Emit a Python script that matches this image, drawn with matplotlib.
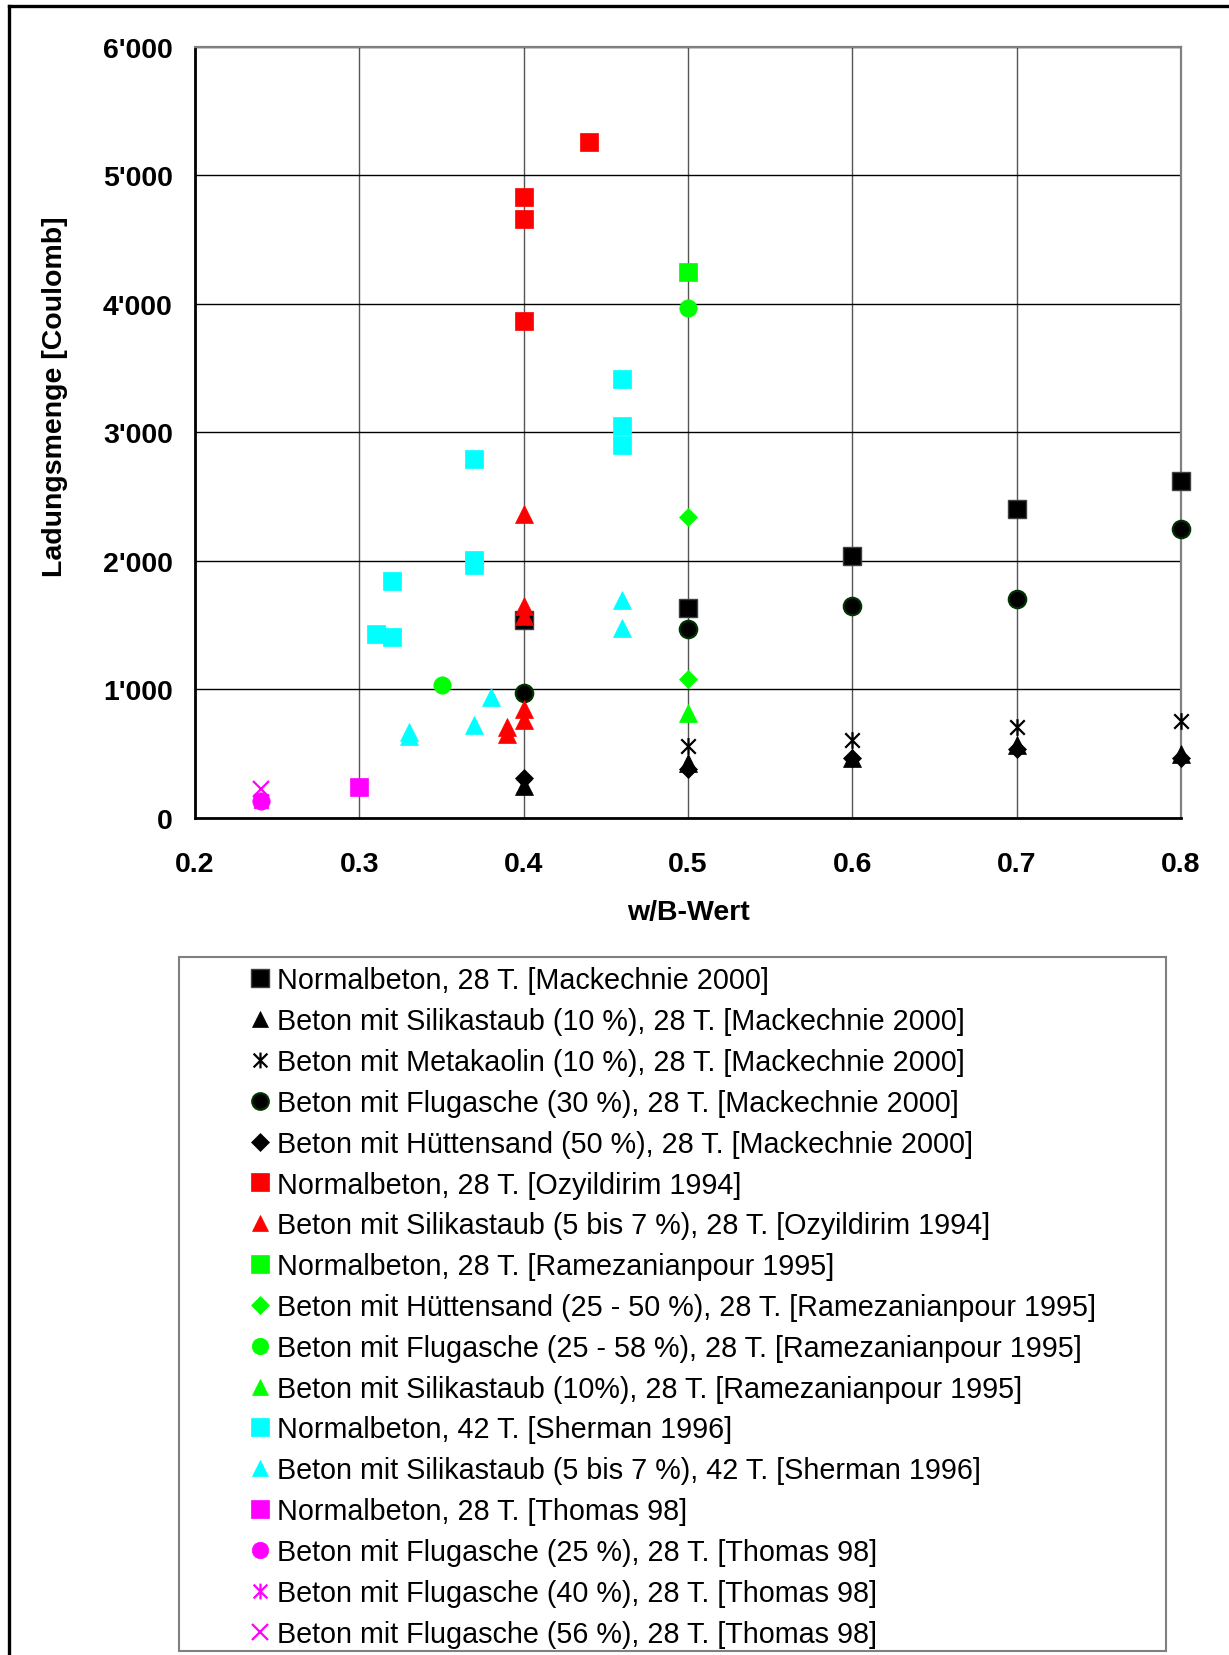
import numpy as np
import matplotlib
matplotlib.use("Agg")
import matplotlib.pyplot as plt
from matplotlib.path import Path
from matplotlib.lines import Line2D
from matplotlib.patches import Rectangle

plt.rcParams["font.family"] = ["Liberation Sans", "DejaVu Sans"]

# x = w/B-Wert, y = Ladungsmenge [Coulomb]
mack_nb_x = [0.4, 0.5, 0.6, 0.7, 0.8]
mack_nb_y = [1540, 1630, 2040, 2400, 2620]
mack_sf_x = [0.4, 0.5, 0.6, 0.7, 0.8]
mack_sf_y = [250, 430, 470, 565, 500]
mack_mk_x = [0.4, 0.5, 0.6, 0.7, 0.8]
mack_mk_y = [250, 557, 609, 710, 756]
mack_fa_x = [0.4, 0.5, 0.6, 0.7, 0.8]
mack_fa_y = [970, 1472, 1648, 1707, 2246]
mack_hs_x = [0.4, 0.5, 0.6, 0.7, 0.8]
mack_hs_y = [315, 385, 465, 540, 466]
ozy_nb_x = [0.4, 0.4, 0.4, 0.44]
ozy_nb_y = [4826, 4658, 3863, 5259]
ozy_sf_x = [0.4, 0.4, 0.4, 0.4, 0.4, 0.39, 0.39]
ozy_sf_y = [2365, 1650, 1570, 850, 760, 710, 650]
ram_nb_x = [0.5]
ram_nb_y = [4250]
ram_hs_x = [0.5, 0.5]
ram_hs_y = [2340, 1083]
ram_fa_x = [0.5, 0.35]
ram_fa_y = [3969, 1031]
ram_sf_x = [0.5]
ram_sf_y = [820]
sher_nb_x = [0.46, 0.46, 0.46, 0.37, 0.37, 0.37, 0.32, 0.31, 0.32]
sher_nb_y = [3415, 3047, 2904, 2790, 2005, 1965, 1842, 1431, 1410]
sher_sf_x = [0.46, 0.46, 0.38, 0.37, 0.33, 0.33]
sher_sf_y = [1692, 1480, 945, 723, 670, 635]
tho_nb_x = [0.3]
tho_nb_y = [245]
tho_fa25_x = [0.24]
tho_fa25_y = [130]
tho_fa40_x = [0.24]
tho_fa40_y = [130]
tho_fa56_x = [0.24]
tho_fa56_y = [225]

labels = [
    "Normalbeton, 28 T. [Mackechnie 2000]",
    "Beton mit Silikastaub (10 %), 28 T. [Mackechnie 2000]",
    "Beton mit Metakaolin (10 %), 28 T. [Mackechnie 2000]",
    "Beton mit Flugasche (30 %), 28 T. [Mackechnie 2000]",
    "Beton mit Hüttensand (50 %), 28 T. [Mackechnie 2000]",
    "Normalbeton, 28 T. [Ozyildirim 1994]",
    "Beton mit Silikastaub (5 bis 7 %), 28 T. [Ozyildirim 1994]",
    "Normalbeton, 28 T. [Ramezanianpour 1995]",
    "Beton mit Hüttensand (25 - 50 %), 28 T. [Ramezanianpour 1995]",
    "Beton mit Flugasche (25 - 58 %), 28 T. [Ramezanianpour 1995]",
    "Beton mit Silikastaub (10%), 28 T. [Ramezanianpour 1995]",
    "Normalbeton, 42 T. [Sherman 1996]",
    "Beton mit Silikastaub (5 bis 7 %), 42 T. [Sherman 1996]",
    "Normalbeton, 28 T. [Thomas 98]",
    "Beton mit Flugasche (25 %), 28 T. [Thomas 98]",
    "Beton mit Flugasche (40 %), 28 T. [Thomas 98]",
    "Beton mit Flugasche (56 %), 28 T. [Thomas 98]",
]

yticks = [0, 1000, 2000, 3000, 4000, 5000, 6000]
ytick_labels = ["0", "1'000", "2'000", "3'000", "4'000", "5'000", "6'000"]
xticks = [0.2, 0.3, 0.4, 0.5, 0.6, 0.7, 0.8]
xtick_labels = ["0.2", "0.3", "0.4", "0.5", "0.6", "0.7", "0.8"]

# Excel "star" marker: x with a vertical bar
star = Path([(-1, -1), (1, 1), (-1, 1), (1, -1), (0, -1.15), (0, 1.15)],
            [Path.MOVETO, Path.LINETO, Path.MOVETO, Path.LINETO, Path.MOVETO, Path.LINETO])

RED, GRN, CYN, MAG = "#FF0000", "#00FF00", "#00FFFF", "#FF00FF"
sq, tri, dia, circ, xs = 13, 12.8, 9.3, 12.5, 12

series = [
    (mack_nb_x, mack_nb_y, dict(marker="s", ms=sq, mfc="black", mec="#404040", mew=1)),
    (mack_sf_x, mack_sf_y, dict(marker="^", ms=tri, mfc="black", mec="black", mew=0.5)),
    (mack_mk_x, mack_mk_y, dict(marker=star, ms=xs, mfc="none", mec="black", mew=1.6)),
    (mack_fa_x, mack_fa_y, dict(marker="o", ms=circ, mfc="black", mec="#003300", mew=1.6)),
    (mack_hs_x, mack_hs_y, dict(marker="D", ms=dia, mfc="black", mec="black", mew=0.5)),
    (ozy_nb_x, ozy_nb_y, dict(marker="s", ms=sq, mfc=RED, mec=RED, mew=0.5)),
    (ozy_sf_x, ozy_sf_y, dict(marker="^", ms=tri, mfc=RED, mec=RED, mew=0.5)),
    (ram_nb_x, ram_nb_y, dict(marker="s", ms=sq, mfc=GRN, mec=GRN, mew=0.5)),
    (ram_hs_x, ram_hs_y, dict(marker="D", ms=dia, mfc=GRN, mec=GRN, mew=0.5)),
    (ram_fa_x, ram_fa_y, dict(marker="o", ms=circ, mfc=GRN, mec=GRN, mew=0.5)),
    (ram_sf_x, ram_sf_y, dict(marker="^", ms=tri, mfc=GRN, mec=GRN, mew=0.5)),
    (sher_nb_x, sher_nb_y, dict(marker="s", ms=sq, mfc=CYN, mec=CYN, mew=0.5)),
    (sher_sf_x, sher_sf_y, dict(marker="^", ms=tri, mfc=CYN, mec=CYN, mew=0.5)),
    (tho_nb_x, tho_nb_y, dict(marker="s", ms=sq, mfc=MAG, mec=MAG, mew=0.5)),
    (tho_fa25_x, tho_fa25_y, dict(marker="o", ms=circ, mfc=MAG, mec=MAG, mew=0.5)),
    (tho_fa40_x, tho_fa40_y, dict(marker=star, ms=xs, mfc="none", mec=MAG, mew=1.6)),
    (tho_fa56_x, tho_fa56_y, dict(marker="x", ms=xs, mfc="none", mec=MAG, mew=1.6)),
]

fig = plt.figure(figsize=(12.29, 16.56), dpi=100)
ax = fig.add_axes([0.1587, 0.5054, 0.8023, 0.4659])

handles = []
for i, (x, y, st) in enumerate(series):
    h, = ax.plot(x, y, linestyle="none", zorder=3 + i, clip_on=False, **st)
    handles.append(h)

ax.set_xlim(0.2, 0.8)
ax.set_ylim(0, 6000)
ax.set_xticks(xticks, xtick_labels)
ax.set_yticks(yticks, ytick_labels)
ax.tick_params(length=0, labelsize=20.5)
ax.tick_params(axis="y", pad=16)
ax.tick_params(axis="x", pad=23.8)
for t in ax.get_xticklabels() + ax.get_yticklabels():
    t.set_fontweight("bold")

ax.yaxis.grid(True, color="black", lw=1.0)
ax.xaxis.grid(True, color="#555555", lw=1.0)
ax.set_axisbelow(True)
for s in ["top", "right"]:
    ax.spines[s].set_color("#808080")
    ax.spines[s].set_linewidth(1.6)
for s in ["left", "bottom"]:
    ax.spines[s].set_color("black")
    ax.spines[s].set_linewidth(2.0)

ax.set_xlabel("w/B-Wert", fontsize=20.5, fontweight="bold")
ax.set_ylabel("Ladungsmenge [Coulomb]", fontsize=20.5, fontweight="bold")
ax.xaxis.set_label_coords(0.5, -0.122)
ax.xaxis.label.set_va("center")
ax.yaxis.set_label_coords(-0.142, 0.548)
ax.yaxis.label.set_va("center")

fig.legend(handles, labels, loc="upper left", bbox_to_anchor=(0.2046, 0.4158),
           frameon=False, fontsize=20.7, handlelength=0.6, handletextpad=0.28,
           labelspacing=0.446, borderpad=0, borderaxespad=0, numpoints=1,
           markerscale=0.95)

# legend frame and the outer chart frame
fig.add_artist(Rectangle((0.146, 0.0024), 0.8027, 0.4193, transform=fig.transFigure,
                         fill=False, ec="#808080", lw=1.5))
fig.add_artist(Line2D([0.0073, 1.0], [0.9958, 0.9958], transform=fig.transFigure,
                      color="black", lw=2.4))
fig.add_artist(Line2D([0.0073, 0.0073], [0.0, 0.9958], transform=fig.transFigure,
                      color="black", lw=2.4))

fig.savefig("out.png", dpi=100)
